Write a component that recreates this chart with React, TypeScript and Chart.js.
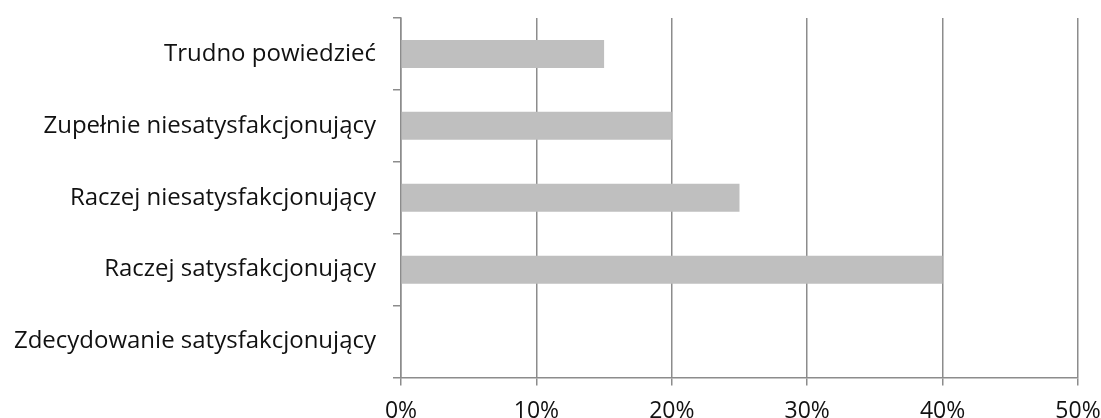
import React, { useEffect, useRef } from "react";
import { Chart, registerables } from "chart.js";

Chart.register(...registerables);

const categories: string[] = [
  "Trudno powiedzieć",
  "Zupełnie niesatysfakcjonujący",
  "Raczej niesatysfakcjonujący",
  "Raczej satysfakcjonujący",
  "Zdecydowanie satysfakcjonujący",
];

// share of answers, in percent
const shares: number[] = [15, 20, 25, 40, 0];

const xTicks: number[] = [0, 10, 20, 30, 40, 50];

const FONT = "'Open Sans', 'Noto Sans', sans-serif";
const LINE = "#8c8c8c";

export default function App() {
  const ref = useRef<HTMLCanvasElement | null>(null);

  useEffect(() => {
    if (!ref.current) return;
    const chart = new Chart(ref.current, {
      type: "bar",
      data: {
        labels: categories,
        datasets: [
          {
            data: shares,
            backgroundColor: "#bfbfbf",
            borderWidth: 0,
            barPercentage: 0.39,
            categoryPercentage: 1,
          },
        ],
      },
      options: {
        indexAxis: "y",
        animation: false,
        responsive: true,
        maintainAspectRatio: false,
        layout: { padding: { top: 18, right: 23, bottom: 0, left: 0 } },
        plugins: {
          legend: { display: false },
          tooltip: { enabled: false },
        },
        scales: {
          x: {
            min: xTicks[0],
            max: xTicks[xTicks.length - 1],
            afterBuildTicks: (scale: any) => {
              scale.ticks = xTicks.map((v) => ({ value: v }));
            },
            afterFit: (scale: any) => {
              scale.height = 40.5;
              scale.paddingLeft = 0;
              scale.paddingRight = 0;
            },
            grid: {
              color: LINE,
              lineWidth: 1.5,
              tickLength: 8,
              drawTicks: true,
            },
            border: { color: LINE, width: 1.5 },
            ticks: {
              color: "#111",
              padding: 12,
              font: { family: FONT, size: 23 },
              callback: (v: any) => `${v}%`,
            },
          },
          y: {
            afterFit: (scale: any) => {
              scale.width = 401;
              scale.paddingTop = 0;
              scale.paddingBottom = 0;
            },
            grid: {
              drawOnChartArea: false,
              drawTicks: true,
              tickLength: 8,
              color: LINE,
              lineWidth: 1.5,
            },
            border: { color: LINE, width: 1.5 },
            ticks: {
              color: "#111",
              padding: 17,
              font: { family: FONT, size: 24 },
            },
          },
        },
      },
    });
    return () => chart.destroy();
  }, []);

  return (
    <div style={{ position: "fixed", left: 0, top: 0, width: 1101, height: 418, background: "#fff" }}>
      <canvas ref={ref} />
    </div>
  );
}
